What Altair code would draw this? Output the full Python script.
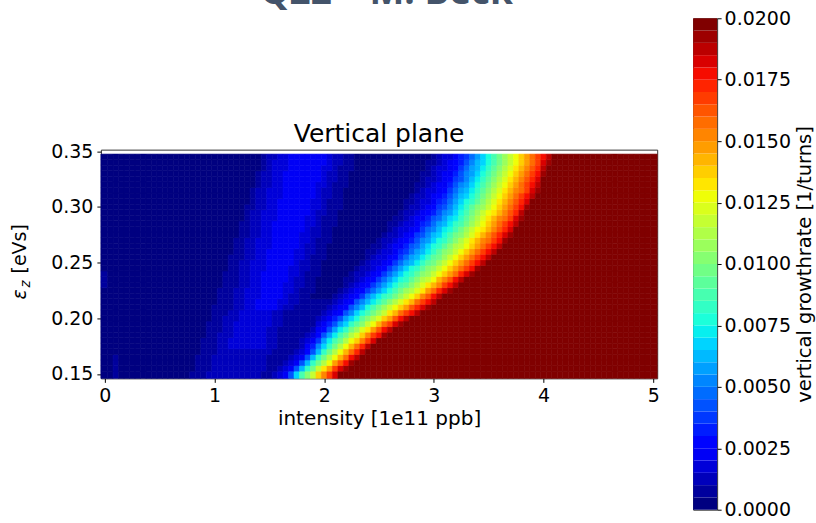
import altair as alt
import pandas as pd

# ---------------------------------------------------------------------------
# Vertical-plane instability growth rate vs. intensity and longitudinal
# emittance.  Each row below is one emittance value (bottom to top); each
# character is one 0.05-wide intensity cell.  The character's position in
# BAND_CODES is the filled-contour band (bands are 0.0005 1/turns wide,
# 40 bands up to 0.02).  Rows use a short run-length form: "c*n" = n cells.
# ---------------------------------------------------------------------------
BAND_CODES = "0123456789abcdefghijklmnopqrstuvwxyzABCD"
BAND_WIDTH = 0.0005
RATE_MAX = 0.02

INTENSITY = [round(0.05 * j, 2) for j in range(101)]          # 1e11 ppb
EMITTANCE = [0.150, 0.155, 0.160, 0.165, 0.170, 0.175, 0.180, 0.185,
             0.190, 0.195, 0.200, 0.205, 0.210, 0.215, 0.220, 0.225,
             0.230, 0.235, 0.240, 0.245, 0.250, 0.255, 0.260, 0.265,
             0.270, 0.275, 0.280, 0.285, 0.290, 0.295, 0.300, 0.305,
             0.310, 0.315, 0.320, 0.325, 0.330, 0.335, 0.340, 0.345]  # eVs

GROWTH_ROWS = [
    "0*2 1 0*13 1*3 2*10 1*2 2 3 4 8 d h k n r u x A D*58",
    "0*2 1 0*14 1*3 2*10 1*2 2 3 4 8 c g j n q t x A C D*56",
    "0*2 1 0*14 1*3 2*10 1*3 2 3 4 8 c g j m p t w z C D*55",
    "0*2 1 0*14 1*3 2*10 1*4 2 3 4 8 c g j m p s v z B D*54",
    "0*18 1*3 2*10 1*4 2 3 5 8 c g j m p s v y B D*53",
    "0*18 1*3 2*2 3*7 2*2 1*4 2 4 6 a d g j m p s v y B D*52",
    "0*18 1*3 2*2 3*7 2*2 1*4 2 3 4 7 b e h j m p r u x A D*51",
    "0*19 1*2 2*3 3*6 2*2 1*5 2 3 5 8 b e h j m o r u x z C D*49",
    "0*19 1*3 2*2 3*6 2*2 1*6 2 4 5 8 b e g j l o q t w z B D*48",
    "0*19 1*3 2*2 3*7 2*2 1*6 3 4 6 8 b d g i k n p s v x A C D*46",
    "0*20 1*2 2*3 3*6 2*2 1*6 2 3 4 6 8 b d f i k m o r t w z B D*45",
    "0*20 1*3 2*2 3*6 2*2 1*7 2 3 4 5 8 a d f h j l n q s v x z B D*43",
    "0*20 1*4 2*2 3*2 4*4 3 2*2 1*6 2 3 4 5 8 a c f h j l n p r t w y A C D*41",
    "0*21 1*3 2*2 3*2 4*4 3*2 2*2 1*6 2 3 4 5 8 a c e g i k m o q s v x z B D*40",
    "0*21 1*3 2*2 3*3 4*4 3 2*2 1*2 0*4 1 2 3 4 5 7 a c e g h j l n p r u w z B D*39",
    "0*21 1*3 2*2 3*3 4*4 3*2 2 1*3 0*4 1 2 3 4 5 7 9 b d f h j l m o q t v y A C D*37",
    "1 0*21 1*3 2*2 3*2 4*4 3*2 2*2 1*2 0*5 1 2 3 4 5 7 9 b d f h i k m o q s u x z B D*36",
    "1 0*21 1*3 2*2 3*2 4*5 3 2*2 1*2 0*5 1*2 2 3 4 5 7 9 b d f g i k m n p s u w z B D*35",
    "1 0*21 1*3 2*2 3*2 4*5 3*2 2 1*3 0*5 1 2 2 3 4 5 7 9 b d f g i k l n p r t v y A C D*33",
    "0*23 1*2 2*2 3*3 4*4 3*2 2*2 1*2 0*6 1 2 2 3 4 5 7 9 b d f g i k l n p r t v x z C D*32",
    "0*23 1*2 2*2 3*3 4*5 3 2*2 1*2 0*7 1 2 3 3 4 5 7 9 b c e g i j l n p r t v x z B D*31",
    "0*23 1*3 2*2 3*2 4*5 3*2 2 1*3 0*7 1 2 3 3 4 5 7 9 b c e g i j l n p r t v x z B D*30",
    "0*24 1*2 2*2 3*2 4*5 3*2 2*2 1*2 0*7 1*2 2 3 3 4 6 7 9 b c e g i k l n p r t v x z B D*29",
    "0*24 1*2 2*2 3*3 4*5 3 2*2 1*2 0*8 1*2 2 3 4 4 6 8 9 b d f g i k m n p r t v x z B D*28",
    "0*24 1*2 2*2 3*3 4*5 3*2 2 1*3 0*8 1 2 2 3 4 5 6 8 a b d f g i k m o q s u v x z C D*27",
    "0*25 1*2 2*2 3*2 4*5 3*2 2*2 1*2 0*9 1 2 2 3 4 5 7 8 a c d f h j k m o q s u w y A C D*26",
    "0*25 1*2 2*2 3*2 4*6 3 2*2 1*2 0*10 1 2 3 3 4 5 7 9 a c e f h j l n p q s u w y A D*26",
    "0*25 1*2 2*2 3*2 4*6 3*2 2 1*3 0*9 1*2 2 3 3 4 6 7 9 b c e g h j l n p r t v x z B D*25",
    "0*26 1 2*2 3*3 4*5 3*2 2 1*3 0*10 1*2 2 3 4 4 6 8 9 b d e g i k m o q s u v x A C D*24",
    "0*26 1 2*2 3*3 4*6 3 2*2 1*2 0*11 1 2 2 3 4 5 6 8 a b d f h j l n p q s u w y B D*24",
    "0*26 1*2 2*2 3*2 4*6 3*2 2 1*3 0*11 1 2 2 3 4 5 7 8 a c e g i k l n p r t v x z C D*23",
    "0*27 1 2*2 3*2 4*6 3*2 2 1*3 0*11 1*2 2 3 3 4 6 7 9 b d f g i k m o q s u w y A D*23",
    "0*27 1 2*2 3*3 4*6 3 2*2 1*2 0*12 1 2 2 3 4 5 6 8 a c d f h j l n p r t v x z B D*22",
    "0*27 1 2*2 3*3 4*6 3 2*2 1*2 0*13 1 2 3 3 4 5 7 9 b c e g i k m o q s u v x A C D*21",
    "0*28 1 2*2 3*2 4*6 3*2 2 1*3 0*12 1*2 2 3 4 4 6 8 a b d f h j l n p r t v x z B D*21",
    "0*28 1 2*2 3*2 4*7 3 2*2 1*2 0*13 1 2 2 3 4 5 7 8 a c e g i k m o q s u w y A D*21",
    "0*28 1 2*2 3*2 4*7 3 2*2 1*2 0*13 1*2 2 3 4 4 6 8 a b d f h j l n p r t v x z C D*20",
    "0*29 1 2 3*3 4*6 3*2 2 1*3 0*13 1 2 3 3 4 5 7 9 b c e g i k m o q s u w y B D*20",
    "0*29 1 2 3*3 4*7 3 2*2 1*2 0*13 1*2 2 3 4 5 6 8 a c d f h j l n p r t v x A C D*19",
    "0*29 1 2*2 3*2 4*7 3 2*2 1*2 0*14 1 2 3 3 4 6 7 9 b d f h j l n p r t v x z B D*19",
]

X_TICKS = [0, 1, 2, 3, 4, 5]
Y_TICKS = [0.15, 0.20, 0.25, 0.30, 0.35]
CBAR_TICKS = [0.0, 0.0025, 0.005, 0.0075, 0.01, 0.0125, 0.015, 0.0175, 0.02]

X_DOMAIN = [-0.036, 5.036]
Y_DOMAIN = [0.146, 0.3515]
HALF_DX = 0.025
HALF_DY = 0.0025

# matplotlib "jet" colormap segment data
JET = {
    "r": [(0.0, 0.0), (0.35, 0.0), (0.66, 1.0), (0.89, 1.0), (1.0, 0.5)],
    "g": [(0.0, 0.0), (0.125, 0.0), (0.375, 1.0), (0.64, 1.0), (0.91, 0.0), (1.0, 0.0)],
    "b": [(0.0, 0.5), (0.11, 1.0), (0.34, 1.0), (0.65, 0.0), (1.0, 0.0)],
}


def _channel(points, v):
    for (x0, y0), (x1, y1) in zip(points, points[1:]):
        if v <= x1:
            return y0 + (y1 - y0) * (v - x0) / (x1 - x0)
    return points[-1][1]


def jet_hex(v):
    rgb = [round(255 * _channel(JET[c], v)) for c in "rgb"]
    return "#{:02x}{:02x}{:02x}".format(*rgb)


N_BANDS = len(BAND_CODES)
BAND_COLORS = [jet_hex(k / (N_BANDS - 1)) for k in range(N_BANDS)]


def expand(rle):
    out = []
    for tok in rle.split():
        ch, _, n = tok.partition("*")
        out.append(ch * int(n or 1))
    return "".join(out)


records = []
for i, (eps, row) in enumerate(zip(EMITTANCE, GROWTH_ROWS)):
    cells = expand(row)
    assert len(cells) == len(INTENSITY), (eps, len(cells))
    y0 = Y_DOMAIN[0] if i == 0 else eps - HALF_DY
    y1 = eps + HALF_DY
    for j, (x, ch) in enumerate(zip(INTENSITY, cells)):
        k = BAND_CODES.index(ch)
        records.append({
            "intensity": x,
            "x0": X_DOMAIN[0] if j == 0 else x - HALF_DX,
            "x1": X_DOMAIN[1] if j == len(INTENSITY) - 1 else x + HALF_DX,
            "eps": eps,
            "y0": y0,
            "y1": y1,
            "rate": (k + 0.5) * BAND_WIDTH,
            "color": BAND_COLORS[k],
        })
cells_df = pd.DataFrame(records)

cbar_df = pd.DataFrame({
    "lo": [k * BAND_WIDTH for k in range(N_BANDS)],
    "hi": [(k + 1) * BAND_WIDTH for k in range(N_BANDS)],
    "color": BAND_COLORS,
})

FONT = "DejaVu Sans"
W, H = 557, 229

heat = alt.Chart(cells_df).mark_rect(strokeWidth=0.6).encode(
    x=alt.X("x0:Q",
            scale=alt.Scale(domain=X_DOMAIN, nice=False, zero=False),
            axis=alt.Axis(values=X_TICKS, format="d",
                          title="intensity [1e11 ppb]",
                          labelPadding=4, titlePadding=3)),
    x2="x1:Q",
    y=alt.Y("y0:Q",
            scale=alt.Scale(domain=Y_DOMAIN, nice=False, zero=False),
            axis=alt.Axis(values=Y_TICKS, format=".2f", title=None,
                          labelPadding=4)),
    y2="y1:Q",
    color=alt.Color("color:N", scale=None),
    stroke=alt.Stroke("color:N", scale=None),
)


def label(text, x, y, size, **kw):
    return alt.Chart(pd.DataFrame({"t": [text]})).mark_text(
        font=kw.pop("font", FONT), fontSize=size, baseline="alphabetic",
        **kw
    ).encode(text="t:N", x=alt.value(x), y=alt.value(y))


panel_title = label("Vertical plane", W / 2, -8, 25, align="center", color="black")
ylab_eps = label("\u03b5", -75, 150, 19, angle=270, align="left",
                 fontStyle="italic", color="black")
ylab_sub = label("z", -71, 138, 13.5, angle=270, align="left",
                 fontStyle="italic", color="black")
ylab_unit = label("[eVs]", -75, 124, 19, angle=270, align="left", color="black")
slide_title = label("Q22 \u2013 M. Beck", 286, -146, 37, align="center",
                    font="Open Sans", fontWeight="bold", color="#44546A")

main = alt.layer(heat, panel_title, ylab_eps, ylab_sub, ylab_unit, slide_title
                 ).properties(width=W, height=H)

cbar = alt.Chart(cbar_df).mark_rect().encode(
    x=alt.value(0),
    x2=alt.value(24),
    y=alt.Y("lo:Q",
            scale=alt.Scale(domain=[0, RATE_MAX], nice=False, zero=False),
            axis=alt.Axis(orient="right", values=CBAR_TICKS, format=".4f",
                          title="vertical growthrate [1/turns]",
                          titleAngle=270, titleBaseline="top",
                          titleFontSize=19.5,
                          labelPadding=3, titlePadding=5)),
    y2="hi:Q",
    color=alt.Color("color:N", scale=None),
).properties(width=24, height=492)

chart = alt.hconcat(main, cbar, spacing=36, center=True, bounds="flush").properties(
    padding={"left": 10, "top": -27, "right": 1, "bottom": 0},
    background="white",
).configure_axis(
    labelFont=FONT, labelFontSize=19, labelColor="black",
    titleFont=FONT, titleFontSize=20, titleFontWeight="normal", titleColor="black",
    tickColor="black", tickSize=4, tickWidth=1,
    domain=False, grid=False,
).configure_view(stroke="#333333", strokeWidth=1)

chart.save("out.html", embed_options={"renderer": "svg", "actions": False})
